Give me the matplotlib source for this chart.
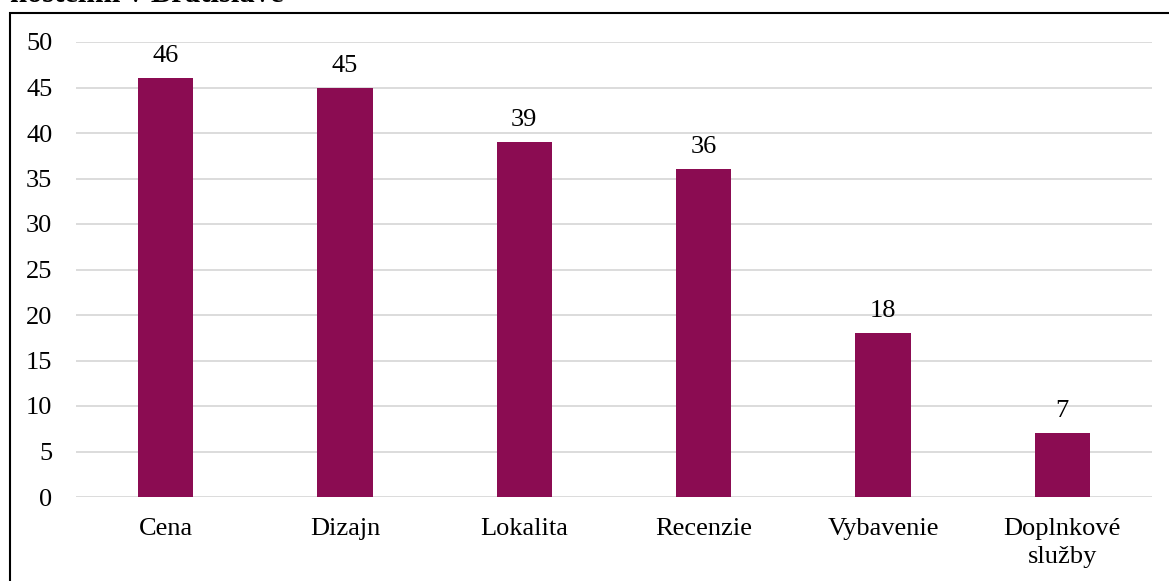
import matplotlib
matplotlib.use("Agg")
import matplotlib.pyplot as plt
from matplotlib.patches import Rectangle

categories = ["Cena", "Dizajn", "Lokalita", "Recenzie", "Vybavenie", "Doplnkové\nslužby"]
values = [46, 45, 39, 36, 18, 7]
yticks = [0, 5, 10, 15, 20, 25, 30, 35, 40, 45, 50]
title_text = "hostelmi v Bratislave"

plt.rcParams['font.family'] = ['Liberation Serif', 'DejaVu Serif']

W, H = 1169, 581
fig = plt.figure(figsize=(W / 100, H / 100), dpi=100)
ax = fig.add_axes([76 / W, 1 - 497 / H, (1152 - 76) / W, (497 - 42) / H])

FS = 19
color = "#8B0C52"
x = list(range(len(categories)))
ax.bar(x, values, width=0.31, color=color, zorder=3)
for xi, v in zip(x, values):
    ax.annotate(str(v), (xi, v), xytext=(0, 11.5), textcoords="offset points",
                ha="center", va="baseline", fontsize=FS, color="black")

ax.set_xlim(-0.5, len(categories) - 0.5)
ax.set_ylim(0, 50)
ax.set_yticks(yticks)
ax.set_xticks(x)
ax.set_xticklabels(categories, fontsize=FS, linespacing=1.35)
ax.tick_params(axis="y", length=0, pad=17, labelsize=FS)
ax.tick_params(axis="x", length=0, pad=15, labelsize=FS)
ax.grid(axis="y", color="#D9D9D9", linewidth=1.3, zorder=0)
ax.set_axisbelow(True)
for s in ax.spines.values():
    s.set_visible(False)

# outer border (chart frame), extending beyond right/bottom edges
fig.patches.append(Rectangle((10 / W, -0.1), 1.2, 1 - 13 / H + 0.1,
                             transform=fig.transFigure, fill=False,
                             edgecolor="black", linewidth=1.5))

# partially visible title text cut at the top (as in the reference)
fig.text(10 / W, 1 - 1.5 / H, title_text, fontsize=22, fontweight="bold",
         ha="left", va="baseline")

fig.savefig("out.png", dpi=100)
